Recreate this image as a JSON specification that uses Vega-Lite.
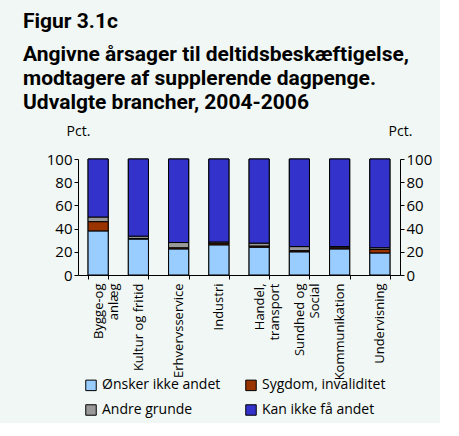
{
  "$schema": "https://vega.github.io/schema/vega-lite/v6.json",
  "width": 322,
  "height": 116,
  "padding": {"left": 23, "top": 11, "right": 8, "bottom": 5},
  "background": "#f0f7f4",
  "title": {
    "text": "Figur 3.1c",
    "subtitle": ["Angivne årsager til deltidsbeskæftigelse,", "modtagere af supplerende dagpenge.", "Udvalgte brancher, 2004-2006"],
    "anchor": "start",
    "frame": "bounds",
    "font": "Roboto",
    "fontSize": 21,
    "fontWeight": "bold",
    "color": "black",
    "subtitleFont": "Roboto",
    "subtitleFontSize": 21,
    "subtitleFontWeight": "bold",
    "subtitleColor": "black",
    "subtitleLineHeight": 24,
    "subtitlePadding": 12,
    "offset": 11
  },
  "data": {
    "values": [
      {"branche": "Bygge-og|anlæg", "aarsag": "Ønsker ikke andet", "pct": 38, "o": 1},
      {"branche": "Bygge-og|anlæg", "aarsag": "Sygdom, invaliditet", "pct": 8, "o": 2},
      {"branche": "Bygge-og|anlæg", "aarsag": "Andre grunde", "pct": 4, "o": 3},
      {"branche": "Bygge-og|anlæg", "aarsag": "Kan ikke få andet", "pct": 50, "o": 4},
      {"branche": "Kultur og fritid", "aarsag": "Ønsker ikke andet", "pct": 31, "o": 1},
      {"branche": "Kultur og fritid", "aarsag": "Sygdom, invaliditet", "pct": 0.5, "o": 2},
      {"branche": "Kultur og fritid", "aarsag": "Andre grunde", "pct": 2, "o": 3},
      {"branche": "Kultur og fritid", "aarsag": "Kan ikke få andet", "pct": 66.5, "o": 4},
      {"branche": "Erhvervsservice", "aarsag": "Ønsker ikke andet", "pct": 22.5, "o": 1},
      {"branche": "Erhvervsservice", "aarsag": "Sygdom, invaliditet", "pct": 1, "o": 2},
      {"branche": "Erhvervsservice", "aarsag": "Andre grunde", "pct": 4.5, "o": 3},
      {"branche": "Erhvervsservice", "aarsag": "Kan ikke få andet", "pct": 72, "o": 4},
      {"branche": "Industri", "aarsag": "Ønsker ikke andet", "pct": 26, "o": 1},
      {"branche": "Industri", "aarsag": "Sygdom, invaliditet", "pct": 1.5, "o": 2},
      {"branche": "Industri", "aarsag": "Andre grunde", "pct": 1, "o": 3},
      {"branche": "Industri", "aarsag": "Kan ikke få andet", "pct": 71.5, "o": 4},
      {"branche": "Handel,|transport", "aarsag": "Ønsker ikke andet", "pct": 24, "o": 1},
      {"branche": "Handel,|transport", "aarsag": "Sygdom, invaliditet", "pct": 1, "o": 2},
      {"branche": "Handel,|transport", "aarsag": "Andre grunde", "pct": 2.5, "o": 3},
      {"branche": "Handel,|transport", "aarsag": "Kan ikke få andet", "pct": 72.5, "o": 4},
      {"branche": "Sundhed og|Social", "aarsag": "Ønsker ikke andet", "pct": 20, "o": 1},
      {"branche": "Sundhed og|Social", "aarsag": "Sygdom, invaliditet", "pct": 1, "o": 2},
      {"branche": "Sundhed og|Social", "aarsag": "Andre grunde", "pct": 3.5, "o": 3},
      {"branche": "Sundhed og|Social", "aarsag": "Kan ikke få andet", "pct": 75.5, "o": 4},
      {"branche": "Kommunikation", "aarsag": "Ønsker ikke andet", "pct": 22.5, "o": 1},
      {"branche": "Kommunikation", "aarsag": "Sygdom, invaliditet", "pct": 1, "o": 2},
      {"branche": "Kommunikation", "aarsag": "Andre grunde", "pct": 1, "o": 3},
      {"branche": "Kommunikation", "aarsag": "Kan ikke få andet", "pct": 75.5, "o": 4},
      {"branche": "Undervisning", "aarsag": "Ønsker ikke andet", "pct": 19, "o": 1},
      {"branche": "Undervisning", "aarsag": "Sygdom, invaliditet", "pct": 3, "o": 2},
      {"branche": "Undervisning", "aarsag": "Andre grunde", "pct": 1.5, "o": 3},
      {"branche": "Undervisning", "aarsag": "Kan ikke få andet", "pct": 76.5, "o": 4}
    ]
  },
  "encoding": {
    "x": {
      "field": "branche",
      "type": "nominal",
      "sort": null,
      "scale": {"paddingInner": 0.5, "paddingOuter": 0.25},
      "axis": {
        "title": null,
        "labelAngle": -90,
        "labelExpr": "isValid(datum.value) ? split(datum.value, '|') : ''",
        "labelFont": "Open Sans",
        "labelFontSize": 13,
        "labelColor": "black",
        "labelLineHeight": 15,
        "labelPadding": 4,
        "tickBand": "extent",
        "tickSize": 4,
        "domainColor": "black",
        "tickColor": "black"
      }
    },
    "color": {
      "field": "aarsag",
      "type": "nominal",
      "scale": {
        "domain": ["Ønsker ikke andet", "Sygdom, invaliditet", "Andre grunde", "Kan ikke få andet"],
        "range": ["#99ccff", "#993300", "#999999", "#3333cc"]
      },
      "legend": {
        "title": null,
        "orient": "none",
        "legendX": 6,
        "legendY": 219,
        "direction": "horizontal",
        "columns": 2,
        "symbolType": "square",
        "symbolSize": 110,
        "symbolStrokeColor": "black",
        "symbolStrokeWidth": 1,
        "labelFont": "Open Sans",
        "labelFontSize": 14,
        "labelColor": "black",
        "rowPadding": 9,
        "columnPadding": 22
      }
    },
    "order": {"field": "o", "type": "quantitative"}
  },
  "layer": [
    {
      "mark": {"type": "bar", "stroke": "black", "strokeWidth": 1},
      "encoding": {
        "y": {
          "field": "pct",
          "type": "quantitative",
          "stack": "zero",
          "scale": {"domain": [0, 100], "nice": false},
          "axis": {
            "values": [0, 20, 40, 60, 80, 100],
            "grid": false,
            "title": "Pct.",
            "titleAngle": 0,
            "titleX": 0,
            "titleY": -21,
            "titleAlign": "center",
            "titleFont": "Open Sans",
            "titleFontSize": 14,
            "titleFontWeight": "normal",
            "titleColor": "black",
            "labelFont": "Open Sans",
            "labelFontSize": 15,
            "labelColor": "black",
            "domainColor": "black",
            "tickColor": "black",
            "tickSize": 4,
            "minExtent": 55
          }
        }
      }
    },
    {
      "mark": {"type": "bar", "stroke": "black", "strokeWidth": 1},
      "encoding": {
        "y": {
          "field": "pct",
          "type": "quantitative",
          "stack": "zero",
          "axis": {
            "orient": "right",
            "values": [0, 20, 40, 60, 80, 100],
            "grid": false,
            "title": "Pct.",
            "titleAngle": 0,
            "titleX": 0,
            "titleY": -21,
            "titleAlign": "center",
            "titleFont": "Open Sans",
            "titleFontSize": 14,
            "titleFontWeight": "normal",
            "titleColor": "black",
            "labelFont": "Open Sans",
            "labelFontSize": 15,
            "labelColor": "black",
            "domainColor": "black",
            "tickColor": "black",
            "tickSize": 4
          }
        }
      }
    }
  ],
  "resolve": {"axis": {"y": "independent"}},
  "config": {
    "view": {"stroke": null}
  }
}
